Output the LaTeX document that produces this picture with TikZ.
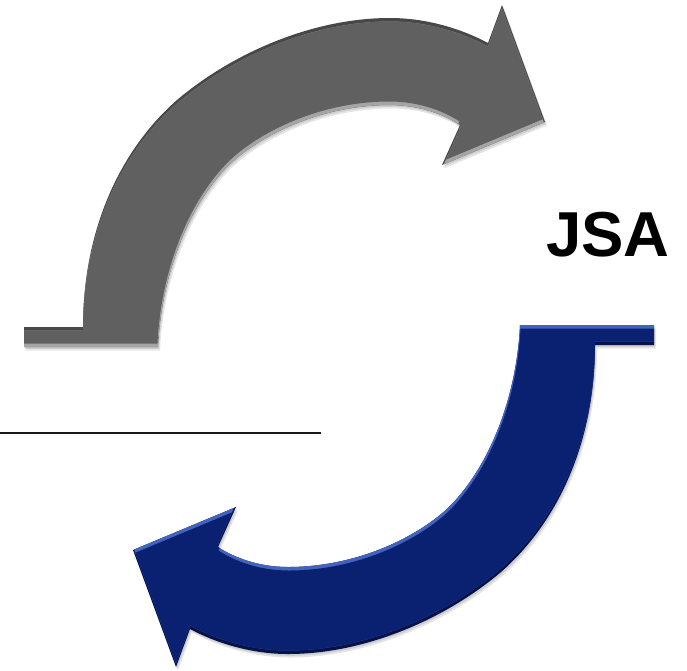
\documentclass[tikz,border=0pt]{standalone}
\usepackage{fontspec}
\setmainfont{Liberation Sans}
\begin{document}
\begin{tikzpicture}[x=1pt,y=-1pt]
\definecolor{gmain}{RGB}{96,96,96}
\definecolor{glight}{RGB}{165,165,165}
\definecolor{gdark}{RGB}{72,72,72}
\definecolor{bmain}{RGB}{10,32,112}
\definecolor{blight}{RGB}{66,100,190}
\definecolor{bdark}{RGB}{6,18,72}
\definecolor{rulecol}{RGB}{25,25,25}
\tikzset{
  shadowfill/.style={fill=black, opacity=0.10},
  rulestyle/.style={draw=rulecol, line width=2.2pt},
  labelstyle/.style={anchor=base west, inner sep=0pt, font=\fontsize{63.5}{63.5}\selectfont\bfseries}
}
\useasboundingbox (0,0) rectangle (687,670);
\newcommand\jsaArrowPath{(24,347) -- (158,347)
  .. controls (161,282) and (184,212) .. (227,167)
  .. controls (258,136) and (320,105) .. (390,105)
  .. controls (420,105) and (445,115) .. (460,125)
  -- (442,165) -- (545,122) -- (502,5) -- (488,43)
  .. controls (460,28) and (425,18) .. (390,18)
  .. controls (310,18) and (230,55) .. (177,100)
  .. controls (120,150) and (83,230) .. (83,327)
  -- (24,327) -- cycle}
\newcommand\jsaBevelArrow[3]{%
  \begin{scope}
    \clip \jsaArrowPath;
    \fill[#3] (-10,-10) rectangle (700,700);
    \fill[#2, shift={(0,3.5)}] \jsaArrowPath;
    \begin{scope}
      \clip[shift={(0,3.5)}] \jsaArrowPath;
      \fill[#1, shift={(-0.5,-3.5)}] \jsaArrowPath;
    \end{scope}
  \end{scope}}
% shadows
\fill[shadowfill, shift={(2,3.5)}] \jsaArrowPath;
\fill[shadowfill, shift={(1,1.8)}] \jsaArrowPath;
\fill[shadowfill, shift={(2,3.5)}, rotate around={180:(339,336)}] \jsaArrowPath;
\fill[shadowfill, shift={(1,1.8)}, rotate around={180:(339,336)}] \jsaArrowPath;
% gray arrow
\jsaBevelArrow{gmain}{glight}{gdark}
% blue arrow (same shape turned half a turn)
\begin{scope}[rotate around={180:(339,336)}]
  \jsaBevelArrow{bmain}{blight}{bdark}
\end{scope}
% rule
\coordinate (ruleA) at (0,433);
\coordinate (ruleB) at (321,433);
\draw[rulestyle] (ruleA) -- (ruleB);
% label
\node[labelstyle] (jsa) at (546,256) {JSA};
\end{tikzpicture}
\end{document}
